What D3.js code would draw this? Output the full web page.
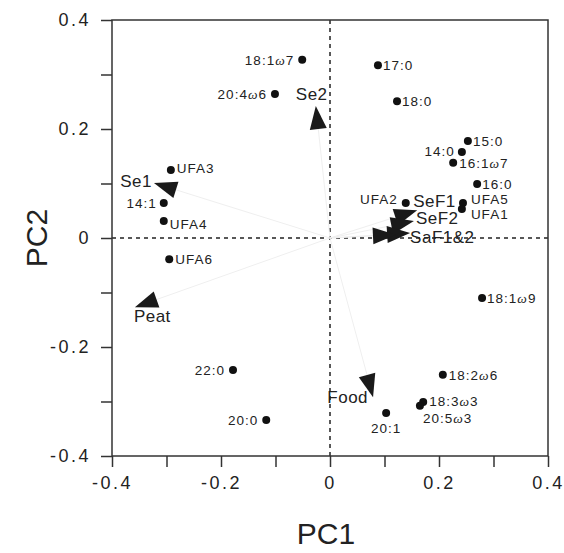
<!DOCTYPE html>
<html lang="en">
<head>
  <meta charset="UTF-8">
  <title>PCA biplot</title>
  <style>
    body { margin: 0; background: #fff; }
    text { font-family: "Liberation Sans", Arial, Helvetica, sans-serif; fill: #222; }
  </style>
</head>
<body>
  <script src="https://cdnjs.cloudflare.com/ajax/libs/d3/7.8.5/d3.min.js"></script>
  <div id="chart"></div>
  <script>
    // fatty acid scores (PC1, PC2)
    let pointNames = ["18:1ω7", "20:4ω6", "17:0", "18:0", "15:0", "14:0", "16:1ω7", "16:0",
      "UFA2", "UFA5", "UFA1", "18:1ω9", "UFA3", "14:1", "UFA4", "UFA6",
      "22:0", "20:0", "20:1", "18:3ω3", "20:5ω3", "18:2ω6"];
    let pointPC1 = [-0.051, -0.101, 0.088, 0.123, 0.253, 0.242, 0.226, 0.270,
      0.139, 0.244, 0.242, 0.279, -0.292, -0.305, -0.305, -0.295,
      -0.178, -0.117, 0.103, 0.171, 0.165, 0.207];
    let pointPC2 = [0.327, 0.264, 0.317, 0.251, 0.178, 0.158, 0.138, 0.099,
      0.064, 0.064, 0.053, -0.110, 0.125, 0.064, 0.031, -0.039,
      -0.242, -0.334, -0.321, -0.301, -0.308, -0.251];

    // environmental vectors
    let arrowNames = ["Se2", "Se1", "Peat", "Food", "SeF1", "SeF2", "SaF1", "SaF2"];
    let arrowPC1 = [-0.026, -0.323, -0.358, 0.079, 0.160, 0.154, 0.147, 0.121];
    let arrowPC2 = [0.242, 0.101, -0.127, -0.292, 0.051, 0.031, 0.009, 0.006];
    let arrowLabels = ["Se2", "Se1", "Peat", "Food", "SeF1", "SeF2", "SaF1&2", ""];

    let majorTicks = [-0.4, -0.2, 0, 0.2, 0.4];
    let tickLabels = ["-0.4", "-0.2", "0", "0.2", "0.4"];
    let minorTicks = [-0.3, -0.1, 0.1, 0.3];

    // label placement: [anchor, dx, dy]
    let pointLabelPos = {
      "18:1ω7": ["end", -8, 5], "20:4ω6": ["end", -8, 5], "17:0": ["start", 5, 5],
      "18:0": ["start", 5, 5], "15:0": ["start", 5, 5], "14:0": ["end", -7, 4],
      "16:1ω7": ["start", 6, 5], "16:0": ["start", 5, 5], "UFA2": ["end", -8, 1],
      "UFA5": ["start", 8, 1], "UFA1": ["start", 9, 10], "18:1ω9": ["start", 5, 5],
      "UFA3": ["start", 6, 3], "14:1": ["end", -7, 5], "UFA4": ["start", 6, 8],
      "UFA6": ["start", 6, 5], "22:0": ["end", -8, 5], "20:0": ["end", -8, 5],
      "20:1": ["middle", 0, 20], "18:3ω3": ["start", 6, 4], "20:5ω3": ["start", 3, 17],
      "18:2ω6": ["start", 6, 5]
    };
    let arrowLabelPos = {
      "Se2": ["start", -20, -6], "Se1": ["end", -2, 4], "Peat": ["start", -1, 15],
      "Food": ["end", -5, 6], "SeF1": ["start", -4, -3], "SeF2": ["start", 2, 3],
      "SaF1&2": ["start", 0, 10]
    };

    function translate(x, y) { return 'translate(' + x + ',' + y + ')'; }

    let W = 564, H = 553;
    let mLeft = 112, mRight = 548, mTop = 20, mBottom = 456;

    let svg = d3.select("#chart").append("svg")
      .attr("width", W)
      .attr("height", H);

    let x = d3.scaleLinear().domain([-0.4, 0.4]).range([mLeft, mRight]);
    let y = d3.scaleLinear().domain([-0.4, 0.4]).range([mBottom, mTop]);

    // zero lines
    svg.append("line")
      .attr("x1", x(0)).attr("x2", x(0)).attr("y1", mTop).attr("y2", mBottom)
      .attr("stroke", "#222").attr("stroke-width", 1.5)
      .style("stroke-dasharray", "4, 4");
    svg.append("line")
      .attr("x1", mLeft).attr("x2", mRight).attr("y1", y(0)).attr("y2", y(0))
      .attr("stroke", "#222").attr("stroke-width", 1.5)
      .style("stroke-dasharray", "4, 4");

    // axes
    let allTicks = majorTicks.concat(minorTicks);
    let fmt = d => {
      let i = majorTicks.findIndex(t => Math.abs(t - d) < 1e-9);
      return i < 0 ? "" : tickLabels[i];
    };

    let xAxis = svg.append("g")
      .attr("transform", translate(0, mBottom))
      .call(d3.axisBottom(x).tickValues(allTicks).tickSize(11).tickPadding(9).tickFormat(fmt));
    let yAxis = svg.append("g")
      .attr("transform", translate(mLeft, 0))
      .call(d3.axisLeft(y).tickValues(allTicks).tickSize(11).tickPadding(10).tickFormat(fmt));

    [xAxis, yAxis].forEach(a => {
      a.select(".domain").remove();
      a.selectAll("line").attr("stroke", "#333").attr("stroke-width", 1.5);
      a.selectAll("text")
        .style("font-size", "18px")
        .style("letter-spacing", "2.5px")
        .style("font-family", "Liberation Sans, Arial, sans-serif")
        .attr("fill", "#222");
    });

    // frame
    svg.append("rect")
      .attr("x", mLeft).attr("y", mTop)
      .attr("width", mRight - mLeft).attr("height", mBottom - mTop)
      .attr("fill", "none")
      .attr("stroke", "#333")
      .attr("stroke-width", 1.5);

    // axis titles
    svg.append("text")
      .attr("transform", translate(326, 544))
      .style("text-anchor", "middle")
      .style("font-size", "30px")
      .text("PC1");
    svg.append("text")
      .attr("transform", translate(47, 238) + " rotate(-90)")
      .style("text-anchor", "middle")
      .style("font-size", "30px")
      .text("PC2");

    // arrows
    let headLen = 23, headHalf = 8.5;
    arrowNames.forEach((name, i) => {
      let x0 = x(0), y0 = y(0);
      let tx = x(arrowPC1[i]), ty = y(arrowPC2[i]);
      let dx = tx - x0, dy = ty - y0;
      let len = Math.sqrt(dx * dx + dy * dy);
      let ux = dx / len, uy = dy / len;
      let bx = tx - ux * headLen, by = ty - uy * headLen;

      svg.append("line")
        .attr("x1", x0).attr("y1", y0).attr("x2", bx).attr("y2", by)
        .attr("stroke", "#efefef").attr("stroke-width", 1);

      svg.append("path")
        .attr("d", "M" + tx + "," + ty +
          "L" + (bx - uy * headHalf) + "," + (by + ux * headHalf) +
          "L" + (bx + uy * headHalf) + "," + (by - ux * headHalf) + "Z")
        .attr("fill", "#1a1a1a");

      let lab = arrowLabels[i];
      if (lab) {
        let p = arrowLabelPos[lab];
        svg.append("text")
          .attr("x", tx + p[1]).attr("y", ty + p[2])
          .style("text-anchor", p[0])
          .style("font-size", "17px")
          .style("letter-spacing", "0.5px")
          .text(lab);
      }
    });

    // points
    pointNames.forEach((name, i) => {
      let px = x(pointPC1[i]), py = y(pointPC2[i]);
      svg.append("circle")
        .attr("cx", px).attr("cy", py).attr("r", 4)
        .attr("fill", "#111");

      let p = pointLabelPos[name];
      let t = svg.append("text")
        .attr("x", px + p[1]).attr("y", py + p[2])
        .style("text-anchor", p[0])
        .style("font-size", "13.5px")
        .style("letter-spacing", "1px");
      let k = name.indexOf("ω");
      if (k < 0) {
        t.text(name);
      } else {
        t.append("tspan").text(name.slice(0, k));
        t.append("tspan").style("font-style", "italic").style("font-family", "Liberation Serif, serif").text("ω");
        t.append("tspan").text(name.slice(k + 1));
      }
    });
  </script>
</body>
</html>
